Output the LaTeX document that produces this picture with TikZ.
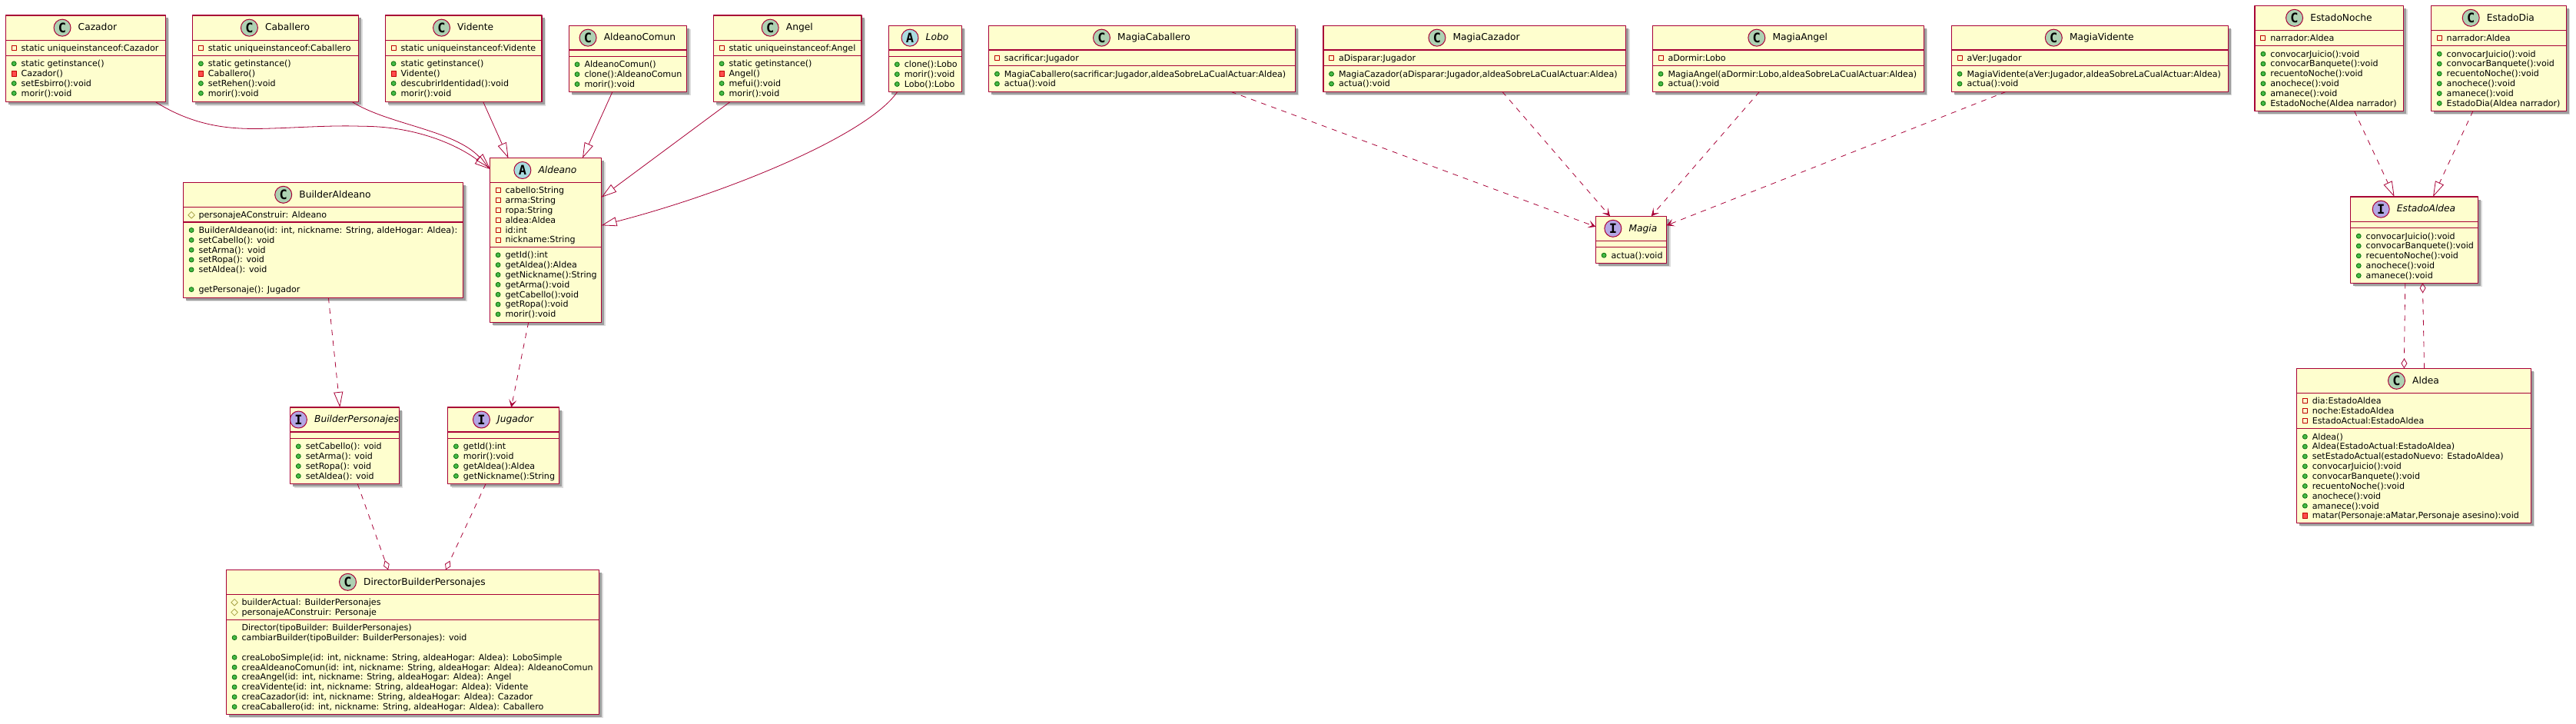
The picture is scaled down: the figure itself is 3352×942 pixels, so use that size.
\documentclass[tikz,border=0pt]{standalone}
\usepackage{fontspec}
\setmainfont{DejaVu Sans}
\newfontfamily\spotfont{DejaVu Sans Mono}
\usetikzlibrary{positioning,arrows.meta,shadows,shapes.geometric}
\definecolor{borde}{HTML}{A80036}
\definecolor{relleno}{HTML}{FEFECE}
\definecolor{spotC}{HTML}{ADD1B2}
\definecolor{spotA}{HTML}{A9DCDF}
\definecolor{spotI}{HTML}{B4A7E5}
\tikzset{
	caja/.style={draw=borde,fill=relleno,line width=1.5pt,anchor=north west,inner sep=0pt,outer sep=0pt,
		general shadow={shadow xshift=5pt,shadow yshift=-5pt,fill=black!14},
		general shadow={shadow xshift=3.5pt,shadow yshift=-3.5pt,fill=black!38}},
	sep/.style={draw=borde,line width=1.5pt},
	nombre/.style={inner sep=0pt,text height=10.5pt,text depth=3pt,font=\fontsize{12.25}{15}\selectfont},
	spot/.style={circle,draw=borde,line width=1pt,minimum size=22pt,inner sep=0pt,font=\spotfont\bfseries\fontsize{17}{17}\selectfont},
	fila/.style={anchor=base west,inner sep=0pt,font=\fontsize{11.1}{13}\selectfont},
	icpv/.style={rectangle,draw=red!75!black,line width=.9pt,minimum size=6pt,inner sep=0pt},
	icpm/.style={rectangle,draw=red!75!black,fill=red!70!white,line width=.7pt,minimum size=6.5pt,inner sep=0pt},
	icpb/.style={circle,draw=green!40!black,fill=green!45!gray,line width=.7pt,minimum size=6pt,inner sep=0pt},
	icpr/.style={diamond,draw=yellow!60!black,line width=.8pt,minimum size=9pt,inner sep=0pt},
	icno/.style={inner sep=0pt,minimum size=0pt},
	hereda/.style={draw=borde,line width=.8pt,-{Triangle[open,length=20pt,width=12pt]}},
	implementa/.style={hereda,dash pattern=on 7pt off 7pt},
	usa/.style={draw=borde,line width=.8pt,dash pattern=on 7pt off 7pt,-{Stealth[length=10pt,width=10pt,inset=5pt]}},
	agrega/.style={draw=borde,line width=.8pt,dash pattern=on 7pt off 7pt,-{Diamond[open,length=13pt,width=8pt]}}
}
%caja: nombre, x, y, ancho, alto
\newcommand{\clase}[5]{\node[caja,minimum width=#4pt,minimum height=#5pt] (#1) at (#2,#3) {};}
%titulo: letra, color, texto
\newcommand{\titulo}[6][]{
	\node[nombre] (#2-t) at ([xshift=15.5,yshift=-#3/2]#2.north) {#1#6};
	\node[spot,fill=#5,left=9pt of #2-t] (#2-s) {#4};
}
\newcommand{\linea}[2]{\draw[sep] ([yshift=-#2]#1.north west) -- ([yshift=-#2]#1.north east);}
%filas de una seccion
\newcommand{\filas}[4]{
	\linea{#1}{#3}
	\foreach \ico/\txt [count=\i] in {#4} {
		\pgfmathsetmacro\yy{#3+10.5+12.85*(\i-1)}
		\node[fila] (#1-#2-\i) at ([xshift=20,yshift=-\yy-3.9]#1.north west) {\txt};
		\node[ic\ico] (#1-#2-\i-ic) at ([xshift=10.7,yshift=-\yy]#1.north west) {};
	}
}
\newcommand{\attrs}[3]{\filas{#1}{a}{#2}{#3}}
\newcommand{\metodos}[3]{\filas{#1}{m}{#2}{#3}}
\begin{document}
\begin{tikzpicture}[x=1pt,y=-1pt,line join=round]
	\useasboundingbox (0,0) rectangle (3352,942);
	%Personajes
	\clase{cazador}{7.5}{20}{207.8}{112.7}
	\titulo{cazador}{32.3}{C}{spotC}{Cazador}
	\attrs{cazador}{32.3}{pv/{static uniqueinstanceof:Cazador}}
	\metodos{cazador}{52.3}{pb/{static getinstance()},pm/{Cazador()},pb/{setEsbirro():void},pb/{morir():void}}
	\clase{caballero}{250.7}{20}{215.8}{112.7}
	\titulo{caballero}{32.3}{C}{spotC}{Caballero}
	\attrs{caballero}{32.3}{pv/{static uniqueinstanceof:Caballero}}
	\metodos{caballero}{52.3}{pb/{static getinstance()},pm/{Caballero()},pb/{setRehen():void},pb/{morir():void}}
	\clase{vidente}{501.4}{20}{203.6}{112.7}
	\titulo{vidente}{32.3}{C}{spotC}{Vidente}
	\attrs{vidente}{32.3}{pv/{static uniqueinstanceof:Vidente}}
	\metodos{vidente}{52.3}{pb/{static getinstance()},pm/{Vidente()},pb/{descubrirIdentidad():void},pb/{morir():void}}
	\clase{comun}{740.3}{33.3}{153.3}{86}
	\titulo{comun}{31.7}{C}{spotC}{AldeanoComun}
	\linea{comun}{31.7}
	\metodos{comun}{40}{pb/{AldeanoComun()},pb/{clone():AldeanoComun},pb/{morir():void}}
	\clase{angel}{928.4}{20}{192.8}{112.7}
	\titulo{angel}{32.3}{C}{spotC}{Angel}
	\attrs{angel}{32.3}{pv/{static uniqueinstanceof:Angel}}
	\metodos{angel}{52.3}{pb/{static getinstance()},pm/{Angel()},pb/{mefui():void},pb/{morir():void}}
	\clase{lobo}{1156.6}{33.3}{94.8}{86}
	\titulo[\itshape]{lobo}{31.7}{A}{spotA}{Lobo}
	\linea{lobo}{31.7}
	\metodos{lobo}{40}{pb/{clone():Lobo},pb/{morir():void},pb/{Lobo():Lobo}}
	\clase{aldeano}{637.4}{205.7}{145.2}{213.6}
	\titulo[\itshape]{aldeano}{31.6}{A}{spotA}{Aldeano}
	\attrs{aldeano}{31.6}{pv/{cabello:String},pv/{arma:String},pv/{ropa:String},pv/{aldea:Aldea},pv/{id:int},pv/{nickname:String}}
	\metodos{aldeano}{115.6}{pb/{getId():int},pb/{getAldea():Aldea},pb/{getNickname():String},pb/{getArma():void},pb/{getCabello():void},pb/{getRopa():void},pb/{morir():void}}
	%Builder
	\clase{builder}{238.4}{237.3}{364.2}{150}
	\titulo{builder}{32}{C}{spotC}{BuilderAldeano}
	\attrs{builder}{32}{pr/{personajeAConstruir: Aldeano}}
	\metodos{builder}{51.7}{pb/{BuilderAldeano(id: int, nickname: String, aldeHogar: Aldea):},pb/{setCabello(): void},pb/{setArma(): void},pb/{setRopa(): void},pb/{setAldea(): void},no/{},pb/{getPersonaje(): Jugador}}
	\clase{bpers}{377.6}{530}{141.8}{99.7}
	\titulo[\itshape]{bpers}{32}{I}{spotI}{BuilderPersonajes}
	\linea{bpers}{32}
	\metodos{bpers}{40.3}{pb/{setCabello(): void},pb/{setArma(): void},pb/{setRopa(): void},pb/{setAldea(): void}}
	\clase{jugador}{582.7}{530}{144.9}{99.7}
	\titulo[\itshape]{jugador}{32}{I}{spotI}{Jugador}
	\linea{jugador}{32}
	\metodos{jugador}{40.3}{pb/{getId():int},pb/{morir():void},pb/{getAldea():Aldea},pb/{getNickname():String}}
	\clase{director}{294.4}{741.3}{485.2}{188}
	\titulo{director}{32}{C}{spotC}{DirectorBuilderPersonajes}
	\attrs{director}{32}{pr/{builderActual: BuilderPersonajes},pr/{personajeAConstruir: Personaje}}
	\metodos{director}{65}{no/{Director(tipoBuilder: BuilderPersonajes)},pb/{cambiarBuilder(tipoBuilder: BuilderPersonajes): void},no/{},pb/{creaLoboSimple(id: int, nickname: String, aldeaHogar: Aldea): LoboSimple},pb/{creaAldeanoComun(id: int, nickname: String, aldeaHogar: Aldea): AldeanoComun},pb/{creaAngel(id: int, nickname: String, aldeaHogar: Aldea): Angel},pb/{creaVidente(id: int, nickname: String, aldeaHogar: Aldea): Vidente},pb/{creaCazador(id: int, nickname: String, aldeaHogar: Aldea): Cazador},pb/{creaCaballero(id: int, nickname: String, aldeaHogar: Aldea): Caballero}}
	%Magias
	\clase{mcab}{1286.7}{33.3}{398.7}{86}
	\titulo{mcab}{31.7}{C}{spotC}{MagiaCaballero}
	\attrs{mcab}{31.7}{pv/{sacrificar:Jugador}}
	\metodos{mcab}{52.4}{pb/{MagiaCaballero(sacrificar:Jugador,aldeaSobreLaCualActuar:Aldea)},pb/{actua():void}}
	\clase{mcaz}{1721.8}{33.3}{393.7}{86}
	\titulo{mcaz}{31.7}{C}{spotC}{MagiaCazador}
	\attrs{mcaz}{31.7}{pv/{aDisparar:Jugador}}
	\metodos{mcaz}{52.4}{pb/{MagiaCazador(aDisparar:Jugador,aldeaSobreLaCualActuar:Aldea)},pb/{actua():void}}
	\clase{mang}{2150.3}{33.3}{353}{86}
	\titulo{mang}{31.7}{C}{spotC}{MagiaAngel}
	\attrs{mang}{31.7}{pv/{aDormir:Lobo}}
	\metodos{mang}{52.4}{pb/{MagiaAngel(aDormir:Lobo,aldeaSobreLaCualActuar:Aldea)},pb/{actua():void}}
	\clase{mvid}{2539.3}{33.3}{360.1}{86}
	\titulo{mvid}{31.7}{C}{spotC}{MagiaVidente}
	\attrs{mvid}{31.7}{pv/{aVer:Jugador}}
	\metodos{mvid}{52.4}{pb/{MagiaVidente(aVer:Jugador,aldeaSobreLaCualActuar:Aldea)},pb/{actua():void}}
	\clase{magia}{2076.4}{281.3}{92.1}{61}
	\titulo[\itshape]{magia}{32}{I}{spotI}{Magia}
	\linea{magia}{32}
	\metodos{magia}{40.4}{pb/{actua():void}}
	%Estados
	\clase{noche}{2934.2}{7.3}{193.5}{137}
	\titulo{noche}{32}{C}{spotC}{EstadoNoche}
	\attrs{noche}{32}{pv/{narrador:Aldea}}
	\metodos{noche}{52.4}{pb/{convocarJuicio():void},pb/{convocarBanquete():void},pb/{recuentoNoche():void},pb/{anochece():void},pb/{amanece():void},pb/{EstadoNoche(Aldea narrador)}}
	\clase{dia}{3163.5}{7.3}{175.8}{137}
	\titulo{dia}{32}{C}{spotC}{EstadoDia}
	\attrs{dia}{32}{pv/{narrador:Aldea}}
	\metodos{dia}{52.4}{pb/{convocarJuicio():void},pb/{convocarBanquete():void},pb/{recuentoNoche():void},pb/{anochece():void},pb/{amanece():void},pb/{EstadoDia(Aldea narrador)}}
	\clase{estado}{3058.5}{256}{166.1}{112.3}
	\titulo[\itshape]{estado}{32.3}{I}{spotI}{EstadoAldea}
	\linea{estado}{32.3}
	\metodos{estado}{40.7}{pb/{convocarJuicio():void},pb/{convocarBanquete():void},pb/{recuentoNoche():void},pb/{anochece():void},pb/{amanece():void}}
	\clase{aldea}{2988.6}{479.3}{304.8}{201}
	\titulo{aldea}{32}{C}{spotC}{Aldea}
	\attrs{aldea}{32}{pv/{dia:EstadoAldea},pv/{noche:EstadoAldea},pv/{EstadoActual:EstadoAldea}}
	\metodos{aldea}{78.4}{pb/{Aldea()},pb/{Aldea(EstadoActual:EstadoAldea)},pb/{setEstadoActual(estadoNuevo: EstadoAldea)},pb/{convocarJuicio():void},pb/{convocarBanquete():void},pb/{recuentoNoche():void},pb/{anochece():void},pb/{amanece():void},pm/{matar(Personaje:aMatar,Personaje asesino):void}}
	%Relaciones
	\draw[hereda] ([xshift=195]cazador.south west) .. controls (265,172) and (320,168) .. (364,166.7) .. controls (405,165) and (440,163) .. (471,164.3) .. controls (535,164) and (590,185) .. ([yshift=-14.3]aldeano.north west);
	\draw[hereda] ([xshift=207.8]caballero.south west) .. controls (505,162) and (591,169) .. ([yshift=-13.3]aldeano.north west);
	\draw[hereda] ([xshift=127.4]vidente.south west) -- ([xshift=24.1]aldeano.north west);
	\draw[hereda] ([xshift=56.7]comun.south west) -- ([xshift=120.6]aldeano.north west);
	\draw[hereda] ([xshift=21.4]angel.south west) -- ([yshift=-51]aldeano.north east);
	\draw[hereda] ([xshift=11.2]lobo.south west) .. controls (1130,175) and (950,250) .. ([yshift=-87.6]aldeano.north east);
	\draw[implementa] ([xshift=189]builder.south west) -- ([xshift=64.7]bpers.north west);
	\draw[usa] ([xshift=50.3]aldeano.south west) -- ([xshift=82.6]jugador.north west);
	\draw[agrega] ([xshift=87.7]bpers.south west) -- ([xshift=210.7]director.north west);
	\draw[agrega] ([xshift=49.3]jugador.south west) -- ([xshift=285.6]director.north west);
	\draw[usa] ([xshift=314.9]mcab.south west) -- ([yshift=-13.7]magia.north west);
	\draw[usa] ([xshift=233]mcaz.south west) -- ([xshift=18.6]magia.north west);
	\draw[usa] ([xshift=139.2]mang.south west) -- ([xshift=72.3]magia.north west);
	\draw[usa] ([xshift=71.2]mvid.south west) -- ([yshift=-12]magia.north east);
	\draw[implementa] ([xshift=129.3]noche.south west) -- ([xshift=57.1]estado.north west);
	\draw[implementa] ([xshift=54.5]dia.south west) -- ([xshift=107.5]estado.north west);
	\draw[agrega] ([xshift=71.2]estado.south west) -- ([xshift=139.7]aldea.north west);
	\draw[agrega] ([xshift=165.9]aldea.north west) -- ([xshift=93.9]estado.south west);
\end{tikzpicture}
\end{document}
